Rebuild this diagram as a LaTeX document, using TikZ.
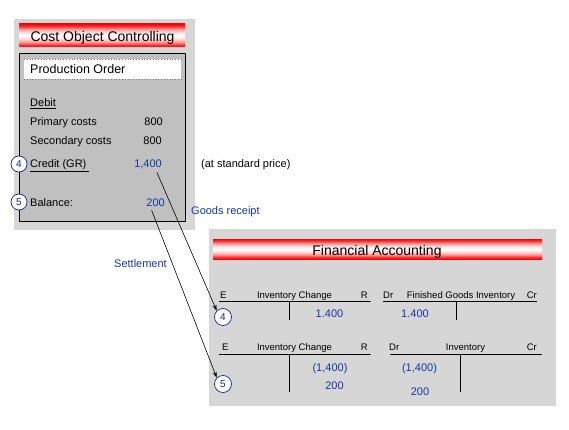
\documentclass[tikz,border=0pt]{standalone}
\usepackage{fontspec}
\setmainfont{Liberation Sans}
\usetikzlibrary{arrows.meta,calc}
\pgfdeclareverticalshading{banner}{100bp}{color(0bp)=(red); color(25bp)=(red); color(29bp)=(red!85!white); color(36bp)=(red!40!white); color(44bp)=(red!10!white); color(50bp)=(white); color(56bp)=(red!10!white); color(64bp)=(red!40!white); color(71bp)=(red!85!white); color(75bp)=(red); color(100bp)=(red)}
\definecolor{texgray}{RGB}{214,214,214}
\definecolor{silvergray}{RGB}{192,192,192}
\definecolor{numblue}{RGB}{20,55,165}
\definecolor{circblue}{RGB}{30,30,150}
\tikzset{
  lbl/.style={inner sep=0pt, font=\fontsize{11}{13}\selectfont},
  num/.style={lbl, text=numblue},
  tlbl/.style={inner sep=0pt, font=\fontsize{9.5}{11}\selectfont},
  title/.style={inner sep=0pt, font=\fontsize{14}{16}\selectfont},
  badge/.style={circle, draw=circblue, fill=white, text=circblue, inner sep=0pt, line width=0.7pt, font=\fontsize{10}{12}\selectfont},
  tline/.style={line width=0.8pt},
  conn/.style={-{Stealth[length=6pt,width=4pt]}, line width=0.6pt},
}
\begin{document}
\begin{tikzpicture}[x=1pt,y=-1pt]
\useasboundingbox (0,0) rectangle (569,430);
\fill[white] (0,0) rectangle (569,430);
% ---- left panel
\fill[texgray] (14,19) rectangle (195,230);
\shade[shading=banner] (19,24) rectangle (185,47);
\node[title, anchor=base] (coc) at (102.5,42) {Cost Object Controlling};
\draw[fill=silvergray, line width=0.8pt] (19,53) rectangle (185,221);
\fill[white] (24,59) rectangle (181,79);
\draw[gray, dotted, line width=0.8pt] (24,59) -- (181,59) (24,79) -- (181,79);
\node[inner sep=0pt, font=\fontsize{12.5}{14}\selectfont, anchor=base west] (po) at (30,74) {Production Order};
\node[lbl, anchor=base west] (debit) at (30,107) {\underline{Debit}};
\node[lbl, anchor=base west] (prim) at (30,126) {Primary costs};
\node[lbl, anchor=base east] (primv) at (163,126) {800};
\node[lbl, anchor=base west] (sec) at (30,145) {Secondary costs};
\node[lbl, anchor=base east] (secv) at (162,145) {800};
\node[lbl, anchor=base west] (cred) at (30,168) {\underline{Credit (GR)\ }};
\node[num, anchor=base east] (cr) at (162,168) {1,400};
\node[lbl, anchor=base west] (std) at (201,168) {(at standard price)};
\node[lbl, anchor=base west] (balt) at (30,207) {Balance:};
\node[num, anchor=base east] (bal) at (165,207) {200};
\node[badge, minimum size=16pt] (c4) at (19,164) {4};
\node[badge, minimum size=16pt] (c5) at (19,202) {5};
\node[num, anchor=base west] (gr) at (191,214) {Goods receipt};
\node[num, anchor=base west] (set) at (114,267) {Settlement};
% ---- right panel
\fill[texgray] (209,229) rectangle (556,406);
\shade[shading=banner] (213,239) rectangle (542,259);
\node[title, anchor=base] (fa) at (377,255) {Financial Accounting};
% row 1
\draw[tline] (219,301) -- (371,301);
\draw[tline] (289,301) -- (289,320);
\draw[tline] (383,301) -- (537,301);
\draw[tline] (456,301) -- (456,320);
\node[tlbl, anchor=base west] (e1) at (220,298) {E};
\node[tlbl, anchor=base] (ic1) at (294.5,298) {Inventory Change};
\node[tlbl, anchor=base east] (r1) at (368,298) {R};
\node[tlbl, anchor=base west] (dr1) at (383,298) {Dr};
\node[tlbl, anchor=base] (fgi) at (461,298) {Finished Goods Inventory};
\node[tlbl, anchor=base east] (cr1) at (537,298) {Cr};
\node[num, anchor=base] (v1a) at (329.5,317) {1.400};
\node[num, anchor=base] (v1b) at (415,317) {1.400};
\node[badge, minimum size=17pt] (fa4) at (223,317) {4};
% row 2
\draw[tline] (219,354) -- (371,354);
\draw[tline] (289,354) -- (289,392);
\draw[tline] (390,354) -- (542,354);
\draw[tline] (460,354) -- (460,392);
\node[tlbl, anchor=base west] (e2) at (222,350) {E};
\node[tlbl, anchor=base] (ic2) at (294.5,350) {Inventory Change};
\node[tlbl, anchor=base east] (r2) at (368,350) {R};
\node[tlbl, anchor=base west] (dr2) at (389,350) {Dr};
\node[tlbl, anchor=base] (inv) at (465.5,350) {Inventory};
\node[tlbl, anchor=base east] (cr2) at (537,350) {Cr};
\node[num, anchor=base] (v2a) at (330,371) {(1,400)};
\node[num, anchor=base] (v2b) at (334.5,389) {200};
\node[num, anchor=base] (v2c) at (419.5,371) {(1,400)};
\node[num, anchor=base] (v2d) at (420,395) {200};
\node[badge, minimum size=17pt] (fa5) at (223,384) {5};
% ---- connectors
\draw[conn] ($(cr.south east)+(-5,3)$) -- (fa4.north west);
\draw[conn] ($(bal.south)+(-4,3)$) -- (fa5.north west);
\end{tikzpicture}
\end{document}
